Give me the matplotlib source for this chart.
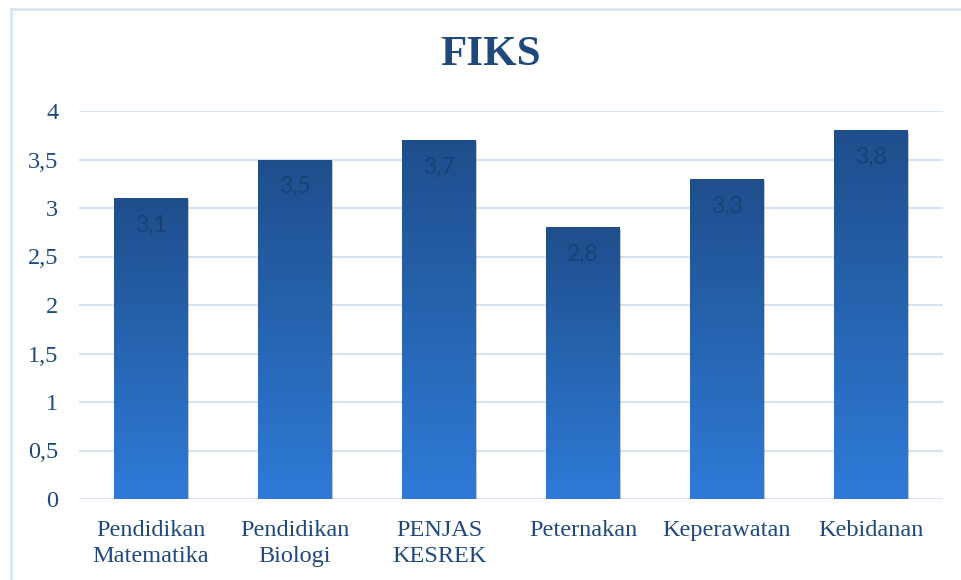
import numpy as np
import matplotlib
matplotlib.use("Agg")
import matplotlib.pyplot as plt
from matplotlib.patches import Rectangle
from matplotlib.lines import Line2D
from matplotlib.colors import LinearSegmentedColormap

# data
categories = ["Pendidikan\nMatematika", "Pendidikan\nBiologi", "PENJAS\nKESREK",
              "Peternakan", "Keperawatan", "Kebidanan"]
values = [3.1, 3.5, 3.7, 2.8, 3.3, 3.8]
value_labels = ["3,1", "3,5", "3,7", "2,8", "3,3", "3,8"]
yticks = [0, 0.5, 1, 1.5, 2, 2.5, 3, 3.5, 4]
ytick_labels = ["0", "0,5", "1", "1,5", "2", "2,5", "3", "3,5", "4"]

text_col = "#1F497D"
grid_col = "#D6E3F3"
serif = ["Liberation Serif", "DejaVu Serif"]

fig = plt.figure(figsize=(9.61, 5.80), dpi=100)
ax = fig.add_axes([79/961, 81/580, (943-79)/961, (499-111)/580])

#vertical gradient, dark on top
cmap = LinearSegmentedColormap.from_list("bar", ["#2E7BD7", "#1F4E8C"])
grad = np.linspace(0, 1, 256).reshape(-1, 1)
w = 0.51
x = np.arange(len(values))
for i, v in enumerate(values):
    #soft shadow
    for k, a in [(0.012, 0.10), (0.008, 0.12), (0.004, 0.15)]:
        sh = Rectangle((x[i]-w/2+k, -0.012), w, v, facecolor="#000000",
                       edgecolor="none", alpha=a, zorder=2)
        ax.add_patch(sh)
    r = Rectangle((x[i]-w/2, 0), w, v, facecolor="none", edgecolor="none", zorder=3)
    ax.add_patch(r)
    im = ax.imshow(grad, cmap=cmap, origin="lower", aspect="auto",
                   extent=(x[i]-w/2, x[i]+w/2, 0, v), zorder=3)
    im.set_clip_path(r)
    ax.text(x[i], v-0.28, value_labels[i], ha="center", va="center",
            fontsize=16.5, family=["Lato", "DejaVu Sans"], color="#173A69",
            alpha=0.7, zorder=4)

ax.set_xlim(-0.5, len(values)-0.5)
ax.set_ylim(0, 4)
ax.set_yticks(yticks)
ax.set_yticklabels(ytick_labels, family=serif, fontsize=17.5, color=text_col)
ax.set_xticks(x)
ax.set_xticklabels(categories, family=serif, fontsize=17.5, color=text_col,
                   linespacing=1.3)
ax.tick_params(length=0)
ax.tick_params(axis="y", pad=15)
ax.tick_params(axis="x", pad=15)
for s in ax.spines.values():
    s.set_visible(False)
ax.yaxis.grid(True, color=grid_col, linewidth=1.5, zorder=0)
ax.set_axisbelow(True)

fig.text(491/961, 1-55/580, "FIKS", ha="center", va="center", fontsize=31,
         fontweight="bold", family=serif, color=text_col)

#chart border (left and top visible)
fig.add_artist(Line2D([11/961, 11/961], [0, 1-9/580], color=grid_col, lw=1.8))
fig.add_artist(Line2D([11/961, 1], [1-9/580, 1-9/580], color=grid_col, lw=1.8))

fig.savefig("out.png", dpi=100)
